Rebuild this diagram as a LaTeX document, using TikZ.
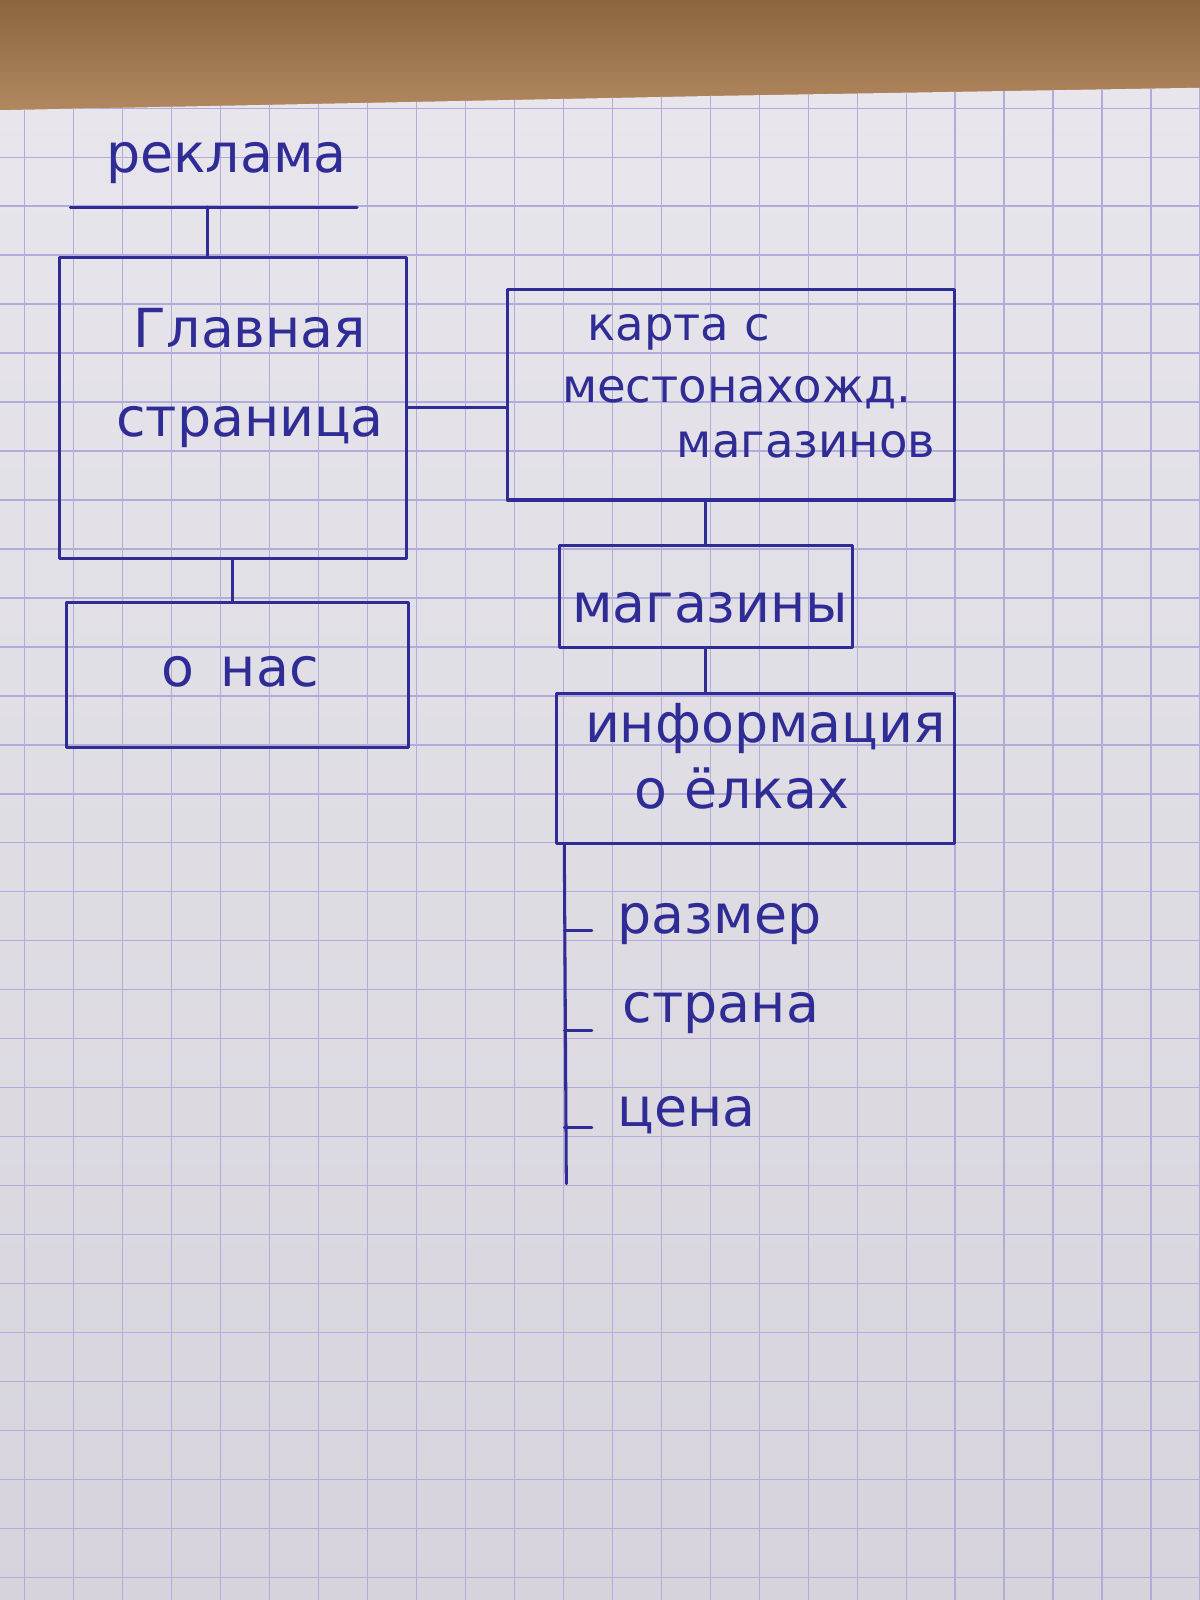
\documentclass[tikz,border=0pt]{standalone}
\usepackage{fontspec}
\setmainfont{DejaVu Sans}
\definecolor{inkblue}{RGB}{48,44,150}
\definecolor{paperhi}{RGB}{232,230,236}
\definecolor{paperlo}{RGB}{214,211,220}
\definecolor{gridc}{RGB}{178,172,218}
\definecolor{woodtop}{RGB}{140,100,62}
\definecolor{woodlow}{RGB}{178,136,96}
\begin{document}
\begin{tikzpicture}[x=0.02cm,y=-0.02cm,
  ink/.style={draw=inkblue,line width=1.7pt,line cap=round,line join=round},
  pagebox/.style={ink,rectangle,inner sep=0pt},
  lbl/.style={text=inkblue,font=\fontsize{30}{36}\selectfont,inner sep=0pt},
  smalllbl/.style={lbl,font=\fontsize{26}{30}\selectfont}]
% sheet of squared paper on a wooden table
\useasboundingbox (0,0) rectangle (1176,1568);
\shade[top color=woodtop,bottom color=woodlow] (0,0) rectangle (1176,110);
\shade[top color=paperhi,bottom color=paperlo]
  (0,108) -- (300,102) -- (700,94) -- (1176,86) -- (1176,1568) -- (0,1568) -- cycle;
\begin{scope}
  \clip (0,108) -- (300,102) -- (700,94) -- (1176,86) -- (1176,1568) -- (0,1568) -- cycle;
  \foreach \gx in {24,72,...,1176} \draw[gridc,line width=0.7pt] (\gx,80) -- (\gx,1568);
  \foreach \gy in {106,154,...,1568} \draw[gridc,line width=0.7pt] (0,\gy) -- (1176,\gy);
\end{scope}

% header
\node[lbl] (rek) at (222,160) {реклама};
\coordinate (rekL) at (69,203);
\coordinate (rekR) at (350,203);
\coordinate (rekStem) at (203,203);
\draw[ink] (rekL) -- (rekR);

% left column
\node[pagebox,minimum width=6.8cm,minimum height=5.9cm] (glav) at (228,399.5) {};
\node[lbl] (glav1) at (245,322) {Главная};
\node[lbl] (glav2) at (245,418) {страница};
\node[pagebox,minimum width=6.7cm,minimum height=2.86cm] (onas) at (232.5,661.5) {};
\node[lbl] (onasT) at (235,658) {о\enspace нас};

% right column
\node[pagebox,minimum width=8.76cm,minimum height=4.12cm] (karta) at (716,387) {};
\node[smalllbl] (karta1) at (665,326) {карта с};
\node[smalllbl] (karta2) at (722,385) {местонахожд.};
\node[smalllbl] (karta3) at (790,436) {магазинов};
\node[pagebox,minimum width=5.74cm,minimum height=2.0cm] (mag) at (691.5,585) {};
\node[lbl] (magT) at (696,596) {магазины};
\node[pagebox,minimum width=7.8cm,minimum height=2.94cm] (info) at (740,753.5) {};
\node[lbl] (info1) at (750,714) {информация};
\node[lbl] (info2) at (727,773) {о ёлках};

% connectors
\draw[ink] (rekStem) -- (rekStem |- glav.north);
\draw[ink] (glav.south) -- (glav.south |- onas.north);
\draw[ink] (glav.east) -- (glav.east -| karta.west);
\draw[ink] (karta.south -| mag.north) -- (mag.north);
\draw[ink] (mag.south) -- (mag.south |- info.north);

% attribute list under the tree info box
\coordinate (listTop) at (553,827);
\coordinate (listEnd) at (555,1160);
\draw[ink] (listTop) -- (listEnd);
\node[lbl,anchor=west] (size) at (605,906) {размер};
\node[lbl,anchor=west] (country) at (610,993) {страна};
\node[lbl,anchor=west] (price) at (605,1093) {цена};
\foreach \t/\ty in {size/912,country/1010,price/1105}
  \draw[ink] (553,\ty) -- (580,\ty);
\end{tikzpicture}
\end{document}
